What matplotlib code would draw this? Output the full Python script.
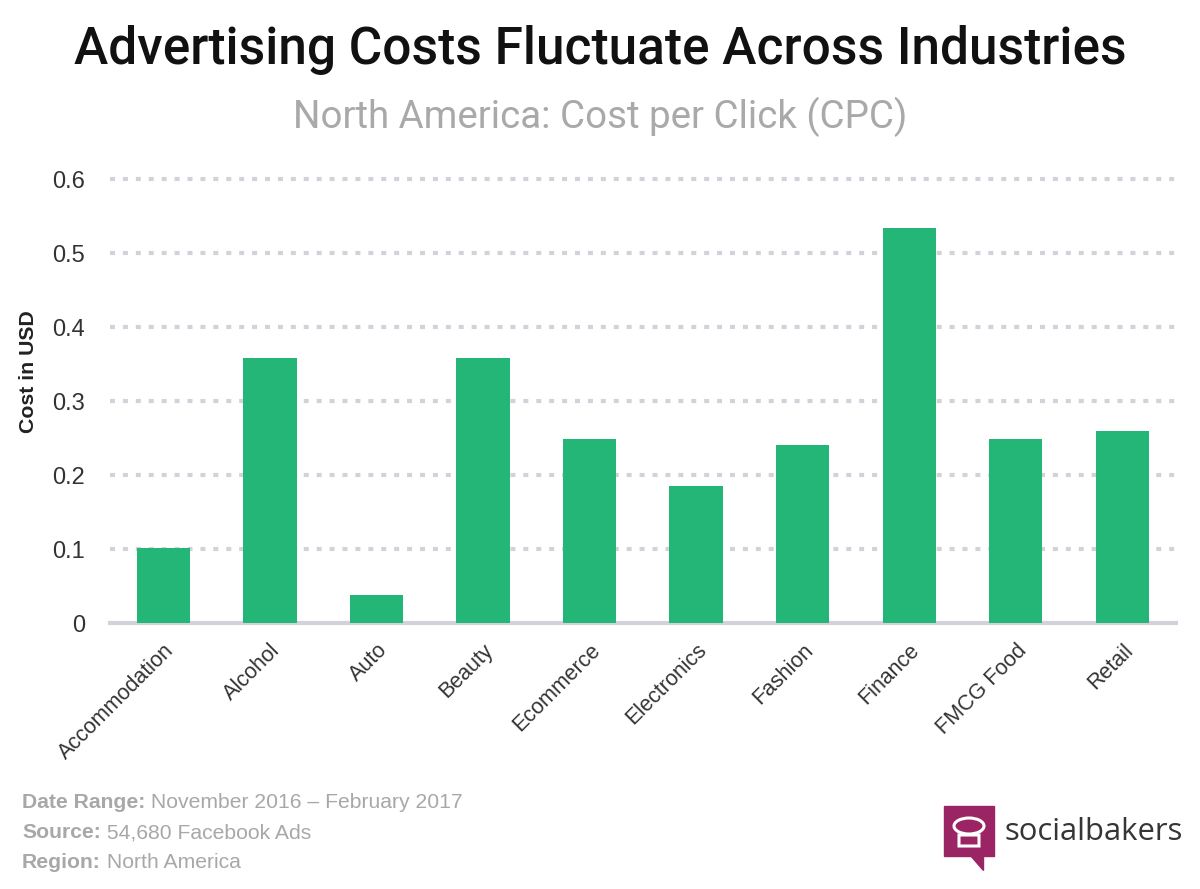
import matplotlib
matplotlib.use("Agg")
import matplotlib.pyplot as plt
from matplotlib.patches import Rectangle, Polygon, Ellipse

categories = ["Accommodation", "Alcohol", "Auto", "Beauty", "Ecommerce",
              "Electronics", "Fashion", "Finance", "FMCG Food", "Retail"]
cpc_values = [0.102, 0.358, 0.038, 0.358, 0.249, 0.185, 0.240, 0.534, 0.249, 0.260]
y_ticks = [0, 0.1, 0.2, 0.3, 0.4, 0.5, 0.6]
y_tick_labels = ["0", "0.1", "0.2", "0.3", "0.4", "0.5", "0.6"]

BAR = "#23b677"
GRID = "#d2d2da"
TXT = "#333333"
GRAY = "#a8a8a8"

fig = plt.figure(figsize=(12, 8.89), dpi=100)
ax = fig.add_axes([0.0917, 0.2992, 0.888, 0.4994])

x = list(range(len(categories)))
ax.bar(x, cpc_values, width=0.5, color=BAR, zorder=3)
ax.set_xlim(-0.5, len(categories) - 0.5)
ax.set_ylim(0, 0.6)
ax.set_yticks(y_ticks)
ax.set_yticklabels(y_tick_labels, fontsize=17, color=TXT, family="Liberation Sans")
ax.set_xticks(x)
ax.set_xticklabels(categories, rotation=45, ha="right", rotation_mode="anchor",
                   fontsize=15.5, color=TXT, family="Liberation Sans")
ax.tick_params(axis="both", length=0)
ax.tick_params(axis="y", pad=18)
ax.tick_params(axis="x", pad=12)

for t in y_ticks[1:]:
    ax.axhline(t, color=GRID, lw=3, linestyle=(0, (1.2, 1.9)), zorder=1, clip_on=False)
for s in ["top", "right", "left"]:
    ax.spines[s].set_visible(False)
ax.spines["bottom"].set_color(GRID)
ax.spines["bottom"].set_linewidth(3)

W, H = 1200, 889
def fx(px): return px / W
def fy(py): return 1 - py / H

fig.text(fx(29), fy(372), "Cost in USD", rotation=90, ha="center", va="center",
         fontsize=15.3, fontweight="bold", color="#222222", family="Liberation Sans")

fig.text(0.5, 0.944, "Advertising Costs Fluctuate Across Industries", ha="center", va="center",
         fontsize=37, fontweight="medium", color="#111111", family="Roboto")
fig.text(0.5, 0.868, "North America: Cost per Click (CPC)", ha="center", va="center",
         fontsize=27.7, color="#a9a9a9", family="Roboto")

foot = [("Date Range:", " November 2016 \u2013 February 2017"),
        ("Source:", " 54,680 Facebook Ads"),
        ("Region:", " North America")]
ys = [803, 833, 862]
for (b, r), yy in zip(foot, ys):
    tb = fig.text(fx(22), fy(yy), b, ha="left", va="center", fontsize=15.2,
                  fontweight="bold", color=GRAY, family="Liberation Sans")
    fig.canvas.draw()
    bb = tb.get_window_extent()
    fig.text(bb.x1 / W, fy(yy), r, ha="left", va="center", fontsize=15.2,
             color=GRAY, family="Liberation Sans")

# logo
fig.patches.append(Rectangle((fx(944), fy(856)), fx(994) - fx(944), fy(806) - fy(856),
                             transform=fig.transFigure, color="#9b2464", zorder=5))
fig.patches.append(Polygon([(fx(970), fy(855)), (fx(983), fy(855)), (fx(983), fy(870))],
                           closed=True, transform=fig.transFigure, color="#9b2464", zorder=5))
fig.text(fx(1004), fy(832), "socialbakers", ha="left", va="center", fontsize=22.3,
         color="#353535", family="Open Sans")
hat = matplotlib.patches.FancyBboxPatch((fx(959), fy(846)), fx(979) - fx(959), fy(835) - fy(846),
                                        boxstyle="round,pad=0.0", transform=fig.transFigure,
                                        fill=False, ec="white", lw=2.2, zorder=6)
fig.patches.append(hat)
fig.patches.append(Ellipse((fx(969), fy(826)), 30 / W, 16 / H, transform=fig.transFigure,
                           fill=False, ec="white", lw=2.2, zorder=6))

fig.savefig("out.png", dpi=100, facecolor="white")
